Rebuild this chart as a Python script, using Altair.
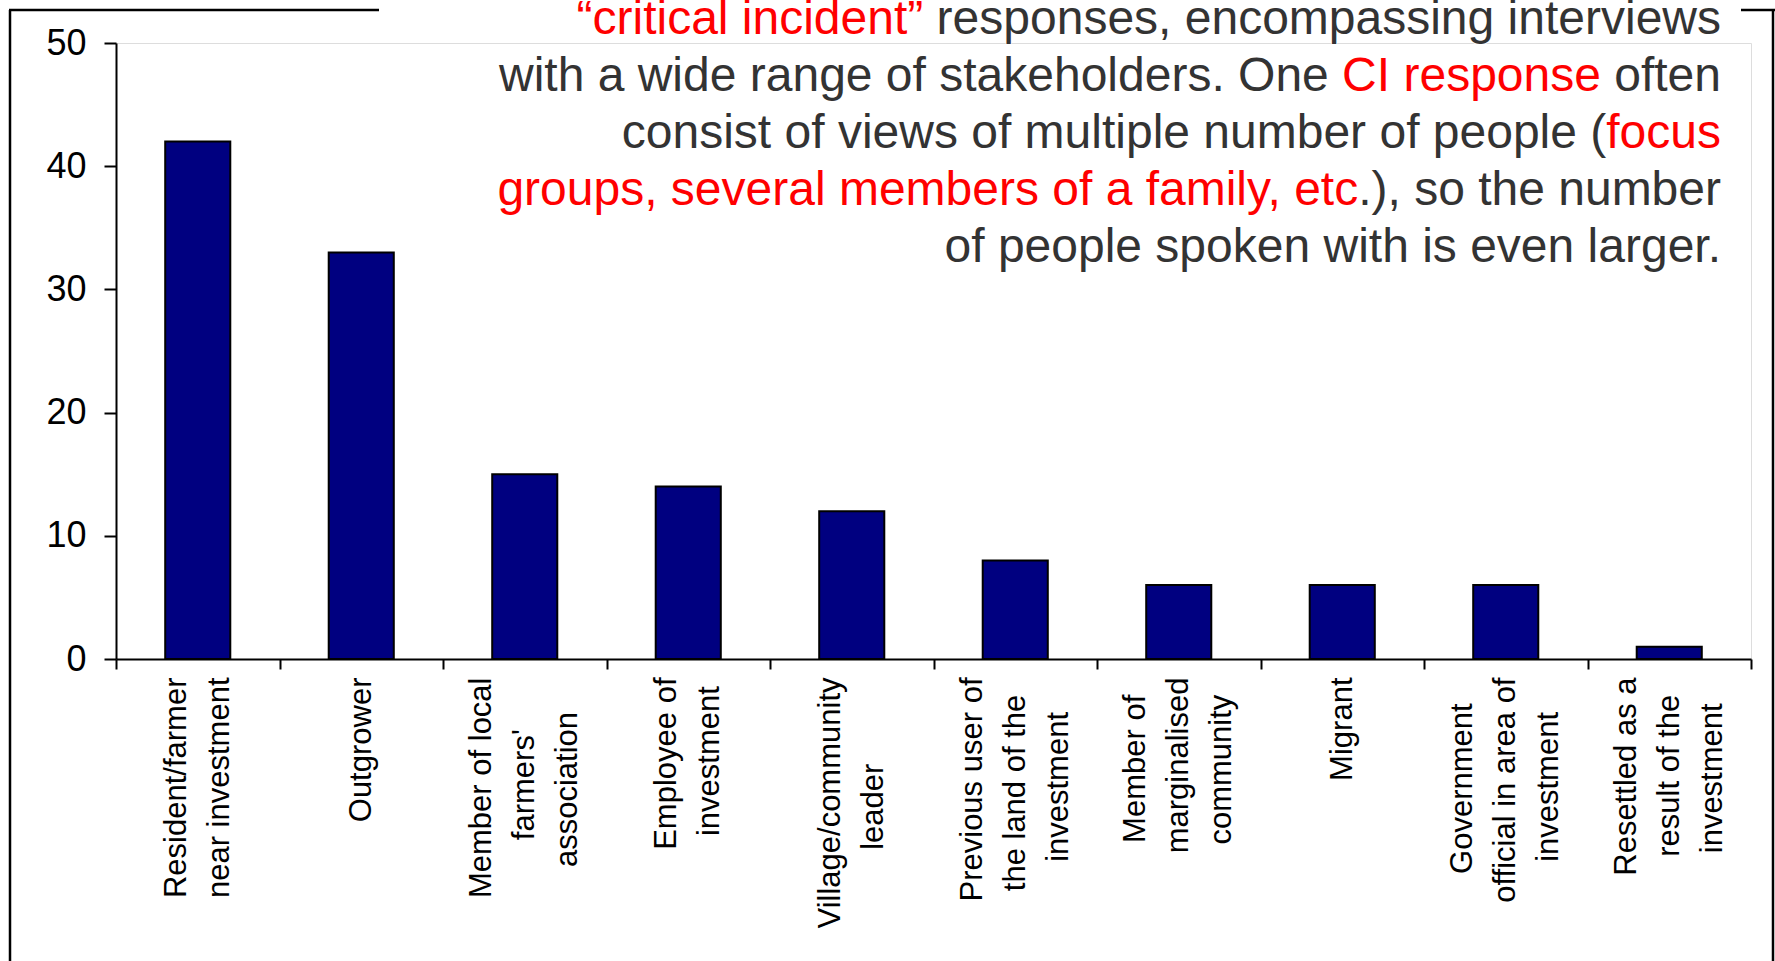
import altair as alt
import pandas as pd

# ---------------- data ----------------
category_lines = [
    ["Resident/farmer", "near investment"],
    ["Outgrower"],
    ["Member of local", "farmers'", "association"],
    ["Employee of", "investment"],
    ["Village/community", "leader"],
    ["Previous user of", "the land of the", "investment"],
    ["Member of", "marginalised", "community"],
    ["Migrant"],
    ["Government", "official in area of", "investment"],
    ["Resettled as a", "result of the", "investment"],
]
counts = [42, 33, 15, 14, 12, 8, 6, 6, 6, 1]
y_ticks = [0, 10, 20, 30, 40, 50]

RED = "#FF0000"
GRAY = "#333333"
note_lines = [
    [("\u201ccritical incident\u201d", RED), (" responses, encompassing interviews", GRAY)],
    [("with a wide range of stakeholders. One ", GRAY), ("CI response", RED), (" often", GRAY)],
    [("consist of views of multiple number of people (", GRAY), ("focus", RED)],
    [("groups, several members of a family, etc", RED), (".), so the number", GRAY)],
    [("of people spoken with is even larger.", GRAY)],
]

# ---------------- label helpers ----------------
NB = "\u00a0"
ZW = "\u200b"
ARIAL = {' ': 278, NB: 278, "'": 191, '/': 278, '.': 278, ',': 278,
         'a': 556, 'b': 556, 'c': 500, 'd': 556, 'e': 556, 'f': 278, 'g': 556, 'h': 556,
         'i': 222, 'j': 222, 'k': 500, 'l': 222, 'm': 833, 'n': 556, 'o': 556, 'p': 556,
         'q': 556, 'r': 333, 's': 500, 't': 278, 'u': 556, 'v': 500, 'w': 722, 'x': 500,
         'y': 500, 'z': 500, 'A': 667, 'C': 722, 'E': 667, 'G': 778, 'M': 833, 'O': 778,
         'P': 667, 'R': 722, 'V': 667}


def tw(s):
    return sum(ARIAL.get(c, 556) for c in s)


MAX_N = max(len(ls) for ls in category_lines)


def label_text(lines):
    # centre short lines inside the block (right-aligned text padded with nbsp)
    m = max(tw(l) for l in lines)
    padded = []
    for l in lines:
        n = int(round((m - tw(l)) / 2 / 278))
        padded.append(l + (NB * n + ZW if n else ""))
    # half-line slots so that every block is centred on its band
    slots = [ZW] * (MAX_N - len(lines))
    for i, l in enumerate(padded):
        if i:
            slots.append(ZW)
        slots.append(l)
    return "|".join(slots)


labels = [label_text(ls) for ls in category_lines]
df = pd.DataFrame({"cat": labels, "count": counts})

# annotation rows (suffix overlay technique for multi-coloured right-aligned lines)
rows = []
k = 0
for i, segs in enumerate(note_lines):
    for j in range(len(segs)):
        suffix = "".join(s for s, _ in segs[j:])
        if j > 0:
            rows.append({"line": i, "t": suffix, "fill": "white", "stroke": "white", "sw": 1.5, "k": k})
            k += 1
        rows.append({"line": i, "t": suffix, "fill": segs[j][1], "stroke": segs[j][1], "sw": 0, "k": k})
        k += 1
note_df = pd.DataFrame(rows)

FONT = "Liberation Sans"
LH = 43

bars = alt.Chart(df).mark_bar(
    width=alt.RelativeBandSize(0.398), fill="#000080", stroke="black", strokeWidth=2
).encode(
    x=alt.X("cat:N", sort=labels, title=None,
            scale=alt.Scale(paddingInner=0, paddingOuter=0),
            axis=alt.Axis(labelExpr="split(datum.label, '|')", labelAngle=270,
                          labelAlign="right", labelBaseline="middle",
                          labelFontSize=31, labelLineHeight=LH / 2, labelFont=FONT,
                          labelColor="black", labelPadding=8, labelLimit=600,
                          labelOffset=-(MAX_N - 1) * LH / 2,
                          labelOverlap=False, tickBand="extent", tickSize=10,
                          tickWidth=2, tickColor="black", domainWidth=2,
                          domainColor="black")),
    y=alt.Y("count:Q", title=None, scale=alt.Scale(domain=[0, 50], nice=False),
            axis=alt.Axis(values=y_ticks, grid=False, tickSize=12, tickWidth=2,
                          tickColor="black", domainWidth=2, domainColor="black",
                          labelFontSize=36, labelFont=FONT, labelColor="black",
                          labelPadding=18)),
)

NOTE_LH = 57
note_layers = []
for i in range(len(note_lines)):
    note_layers.append(
        alt.Chart(note_df).transform_filter(alt.datum.line == i).mark_text(
            align="right", baseline="alphabetic", fontSize=48, font=FONT
        ).encode(
            x=alt.value(1605), y=alt.value(-9 + NOTE_LH * i),
            text="t:N",
            fill=alt.Fill("fill:N", scale=None),
            stroke=alt.Stroke("stroke:N", scale=None),
            strokeWidth=alt.StrokeWidth("sw:Q", scale=None),
            order=alt.Order("k:Q"),
        )
    )

one = pd.DataFrame({"a": [0]})
rule_style = dict(color="black", strokeWidth=2.5)
frame_left = alt.Chart(one).mark_rule(**rule_style).encode(
    x=alt.value(-106), y=alt.value(-33), y2=alt.value(930))
frame_right = alt.Chart(one).mark_rule(**rule_style).encode(
    x=alt.value(1657), y=alt.value(-33), y2=alt.value(930))
frame_top_l = alt.Chart(one).mark_rule(**rule_style).encode(
    x=alt.value(-107), x2=alt.value(263), y=alt.value(-33))
frame_top_r = alt.Chart(one).mark_rule(**rule_style).encode(
    x=alt.value(1625), x2=alt.value(1659), y=alt.value(-33))

chart = alt.layer(frame_left, frame_right, frame_top_l, frame_top_r, bars, *note_layers).properties(
    width=1635, height=616,
    padding={"left": 116, "top": 43, "right": 24, "bottom": 302},
    autosize=alt.AutoSizeParams(type="none"),
    background="white",
).configure_view(strokeWidth=0).configure(font=FONT)

chart.save("out.html", embed_options={"renderer": "svg", "actions": False})
